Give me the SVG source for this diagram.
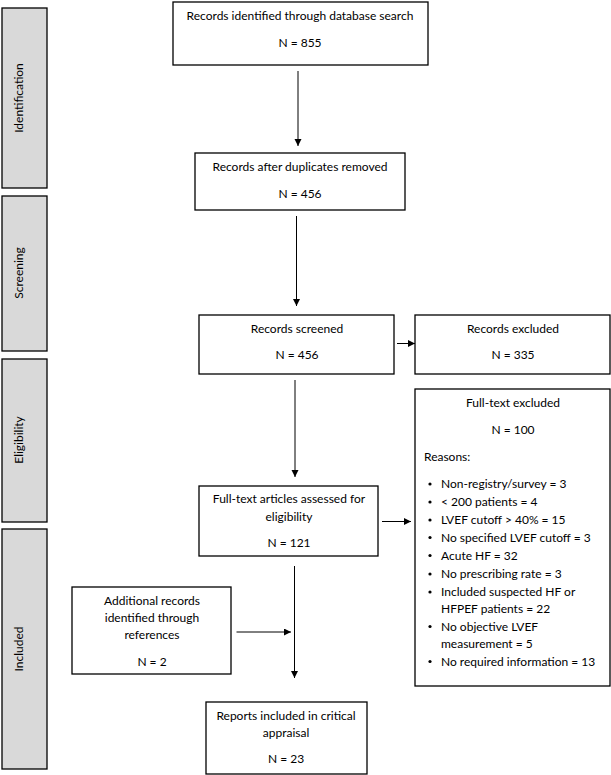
<svg xmlns="http://www.w3.org/2000/svg" width="611" height="775" viewBox="0 0 611 775">
<style>
.box{fill:#fff;stroke:#000;stroke-width:1.3}
.side{fill:#d9d9d9;stroke:#000;stroke-width:1.3}
text{font-family:Lato,"Liberation Sans",sans-serif;font-size:12px;fill:#000}
.c{text-anchor:middle}
.lbl{font-size:12px}
.con{stroke:#000;stroke-width:1;fill:none;marker-end:url(#ah)}
</style>
<defs>
<marker id="ah" markerWidth="8" markerHeight="8" refX="7" refY="3.5" orient="auto" markerUnits="userSpaceOnUse">
<path d="M0,0 L7,3.5 L0,7 Z" fill="#000"/>
</marker>
</defs>
<rect width="611" height="775" fill="#fff"/>
<g id="phase-identification"><rect class="side" x="2" y="8" width="45" height="180"/><text class="c lbl" transform="translate(23,98) rotate(-90)">Identification</text></g>
<g id="phase-screening"><rect class="side" x="2" y="196" width="45" height="155"/><text class="c lbl" transform="translate(23,273) rotate(-90)">Screening</text></g>
<g id="phase-eligibility"><rect class="side" x="2" y="359" width="45" height="163"/><text class="c lbl" transform="translate(23,440) rotate(-90)">Eligibility</text></g>
<g id="phase-included"><rect class="side" x="2" y="529" width="45" height="240"/><text class="c lbl" transform="translate(23,649) rotate(-90)">Included</text></g>

<g id="n-identified"><rect class="box" x="173" y="2" width="255" height="63"/><text class="c" x="300" y="20">Records identified through database search</text><text class="c" x="300" y="47">N = 855</text></g>
<g id="n-dedup"><rect class="box" x="195" y="153" width="210" height="57"/><text class="c" x="300" y="171">Records after duplicates removed</text><text class="c" x="300" y="198">N = 456</text></g>
<g id="n-screened"><rect class="box" x="199" y="315" width="195" height="59"/><text class="c" x="297" y="333">Records screened</text><text class="c" x="297" y="359">N = 456</text></g>
<g id="n-excluded"><rect class="box" x="415" y="315" width="195" height="59"/><text class="c" x="513" y="333">Records excluded</text><text class="c" x="513" y="359">N = 335</text></g>
<g id="n-fulltext"><rect class="box" x="199" y="486" width="179" height="70"/><text class="c" x="289" y="503">Full-text articles assessed for</text><text class="c" x="289" y="521">eligibility</text><text class="c" x="289" y="547">N = 121</text></g>
<g id="n-ftexcluded"><rect class="box" x="415" y="389" width="195" height="297"/>
<text class="c" x="513" y="407">Full-text excluded</text>
<text class="c" x="513" y="434">N = 100</text>
<text x="424" y="461">Reasons:</text>
<g>
<circle cx="430" cy="484" r="1.6"/><text x="441" y="488">Non-registry/survey = 3</text>
<circle cx="430" cy="502" r="1.6"/><text x="441" y="506">&lt; 200 patients = 4</text>
<circle cx="430" cy="520" r="1.6"/><text x="441" y="524">LVEF cutoff &gt; 40% = 15</text>
<circle cx="430" cy="537.5" r="1.6"/><text x="441" y="541.5">No specified LVEF cutoff = 3</text>
<circle cx="430" cy="555.5" r="1.6"/><text x="441" y="559.5">Acute HF = 32</text>
<circle cx="430" cy="574" r="1.6"/><text x="441" y="578">No prescribing rate = 3</text>
<circle cx="430" cy="592" r="1.6"/><text x="441" y="596">Included suspected HF or</text>
<text x="441" y="613">HFPEF patients = 22</text>
<circle cx="430" cy="626.5" r="1.6"/><text x="441" y="630.5">No objective LVEF</text>
<text x="441" y="648">measurement = 5</text>
<circle cx="430" cy="661.5" r="1.6"/><text x="441" y="665.5">No required information = 13</text>
</g>
</g>
<g id="n-additional"><rect class="box" x="72" y="587" width="159" height="87"/><text class="c" x="152" y="605">Additional records</text><text class="c" x="152" y="622">identified through</text><text class="c" x="152" y="639">references</text><text class="c" x="152" y="666">N = 2</text></g>
<g id="n-included"><rect class="box" x="206" y="702" width="161" height="72"/><text class="c" x="286" y="720">Reports included in critical</text><text class="c" x="286" y="737">appraisal</text><text class="c" x="286" y="763">N = 23</text></g>

<g id="connectors">
<line class="con" x1="298" y1="71" x2="298" y2="146"/>
<line class="con" x1="296.5" y1="216" x2="296.5" y2="306"/>
<line class="con" x1="397" y1="343.5" x2="415" y2="343.5"/>
<line class="con" x1="295" y1="380" x2="295" y2="477"/>
<line class="con" x1="382" y1="521.5" x2="411" y2="521.5"/>
<line class="con" x1="294.5" y1="566" x2="294.5" y2="678"/>
<line class="con" x1="236.5" y1="632" x2="291" y2="632"/>
</g>
</svg>
